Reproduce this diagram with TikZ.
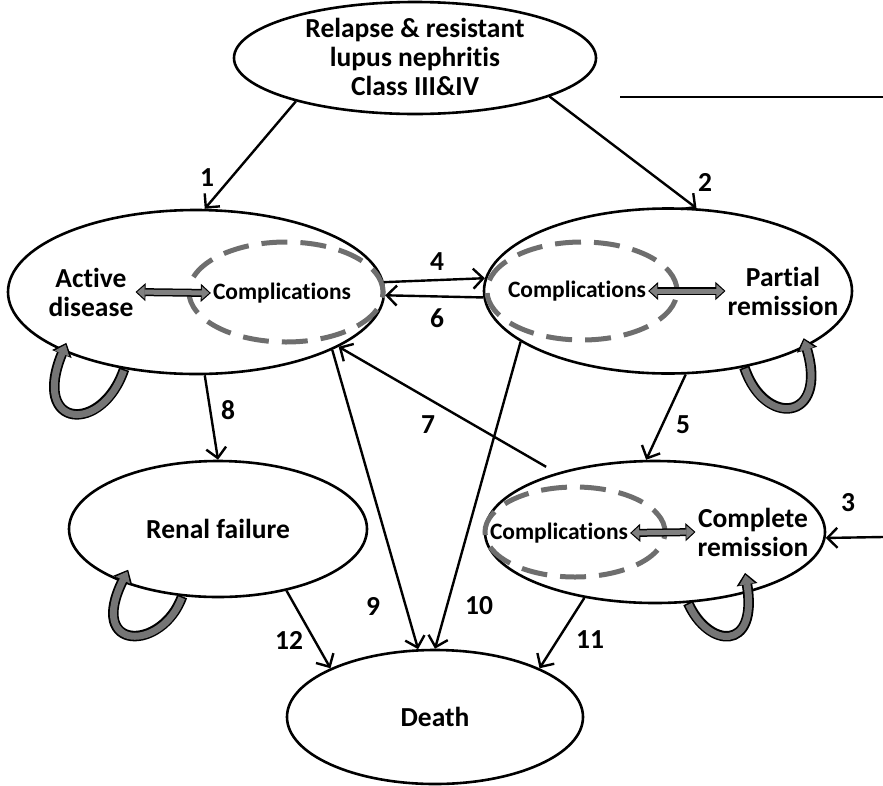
\documentclass[tikz,border=0pt]{standalone}
\usepackage{fontspec}
\setmainfont{Carlito}[Ligatures=NoCommon]
\usetikzlibrary{arrows.meta,shapes.geometric}
\definecolor{dashgray}{HTML}{6E6E6E}
\definecolor{loopgray}{HTML}{757575}
\definecolor{arrgray}{HTML}{808080}

\begin{document}
\begin{tikzpicture}[x=1pt,y=-1pt,>={Straight Barb[length=10pt,width=20pt]},
    every node/.style={font=\fontsize{27.5}{29}\selectfont\bfseries,align=center,inner sep=2pt},
    state/.style={ellipse,draw,line width=2.6pt,inner sep=0pt},
    comp/.style={ellipse,draw=dashgray,line width=5pt,dash pattern=on 26pt off 13pt,inner sep=0pt},
    small/.style={font=\fontsize{23.5}{26}\selectfont\bfseries},
    link/.style={->,line width=2.4pt}]
  \useasboundingbox (0,0) rectangle (883,785);
  % states
  \node[state,minimum width=362pt,minimum height=112pt] (relapse) at (415,58) {};
  \node (reltxt) at (415,57) {Relapse \& resistant\\lupus nephritis\\Class III\&IV};
  \node[state,minimum width=376pt,minimum height=164pt] (active) at (196,292) {};
  \node[state,minimum width=368pt,minimum height=165pt] (partial) at (668,291) {};
  \node[state,minimum width=298pt,minimum height=136pt] (renal) at (218,529) {Renal failure};
  \node[state,minimum width=340pt,minimum height=142pt] (complete) at (655,532) {};
  \node[state,minimum width=296pt,minimum height=134pt] (death) at (435,717) {Death};
  % complications inside the states
  \node[comp,minimum width=194pt,minimum height=100pt] (actcomp) at (286,292) {};
  \node[comp,minimum width=190pt,minimum height=98pt] (parcomp) at (582,291) {};
  \node[comp,minimum width=180pt,minimum height=90pt] (comcomp) at (575,532) {};
  \node (activetxt) at (91,292) {Active\\disease};
  \node[small] (actcomptxt) at (282,293) {Complications};
  \node[small] (parcomptxt) at (577,291) {Complications};
  \node (partxt) at (783,291) {Partial\\remission};
  \node[small] (comcomptxt) at (559,533) {Complications};
  \node (comtxt) at (753,532) {Complete\\remission};
  % two-way arrows
  \foreach \p/\q in {activetxt.east/actcomptxt.west,parcomptxt.east/partxt.west,comcomptxt.east/comtxt.west}{
    \draw[line width=8pt,{Triangle[length=10pt,width=18pt,line width=1pt]}-{Triangle[length=10pt,width=18pt,line width=1pt]}] (\p) -- (\q);
    \draw[line width=5pt,arrgray,shorten <=1.6pt,shorten >=1.6pt,{Triangle[length=7.5pt,width=13pt,line width=1pt]}-{Triangle[length=7.5pt,width=13pt,line width=1pt]}] (\p) -- (\q);
  }
  % self loops
  \foreach \s/\ta/\ha/\ca/\cb/\ext in {active/-133.5/-156.8/{-22,65}/{-32,78}/9,
      partial/-45.8/-22.5/{20,60}/{22,75}/9,
      renal/-118.6/-151.6/{-20,55}/{-35,70}/14,
      complete/-65.4/-33/{20,45}/{10,60}/20}{
    \draw[line width=10.5pt,-{Triangle[length=12pt,width=21pt,line width=1pt]},shorten >=-\ext pt] (\s.\ta) .. controls +(\ca) and +(\cb) .. (\s.\ha);
    \draw[line width=7pt,loopgray,shorten <=1.6pt,-{Triangle[length=9.5pt,width=15.5pt,line width=1pt]},shorten >={-\ext pt+2pt}] (\s.\ta) .. controls +(\ca) and +(\cb) .. (\s.\ha);
  }
  % transitions
  \coordinate (outa) at (620,97);
  \coordinate (outb) at (883,97);
  \coordinate (into) at (883,537);
  \draw[line width=2.8pt] (outa) -- (outb);
  \draw[link] (relapse.200) -- (active.84);
  \draw[link] (relapse.-16) -- (partial.71);
  \draw[link] (into) -- (complete.-2);
  \draw[link] (active.3.7) -- (partial.176.5);
  \draw[link] (partial.-178.7) -- (active.-1);
  \draw[link] (partial.-78.6) -- (complete.97.6);
  \draw[link,shorten <=12pt] (complete.149) -- (active.-21.3);
  \draw[link] (active.-84) -- (renal.90);
  \draw[link] (active.-23.8) -- (death.104.6);
  \draw[link] (partial.-161.7) -- (death.90);
  \draw[link] (complete.-137) -- (death.25);
  \draw[link] (renal.-42) -- (death.155);
  % numbers
  \node (n1) at (207,178) {1};
  \node (n2) at (705,182) {2};
  \node (n3) at (848,503) {3};
  \node (n4) at (437,262) {4};
  \node (n5) at (683,425) {5};
  \node (n6) at (437,318) {6};
  \node (n7) at (428,425) {7};
  \node (n8) at (228,410) {8};
  \node (n9) at (373,606) {9};
  \node (n10) at (479,606) {10};
  \node (n11) at (590,640) {11};
  \node (n12) at (289,640) {12};
\end{tikzpicture}
\end{document}
